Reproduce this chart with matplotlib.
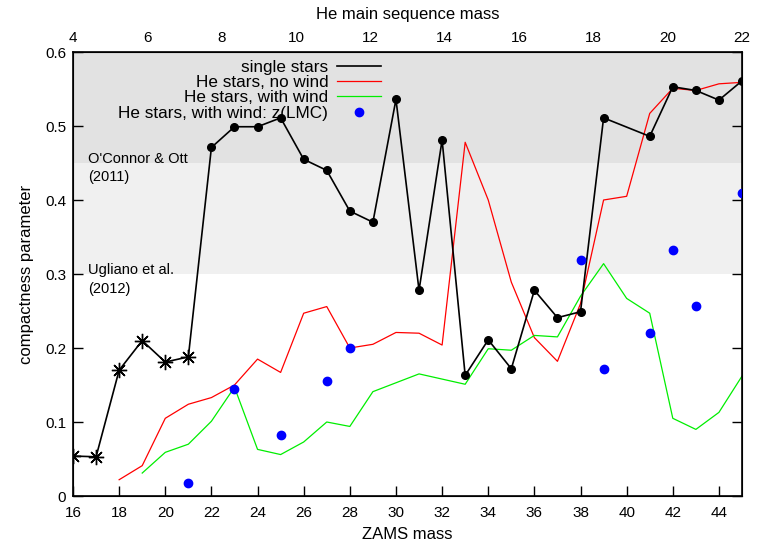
import matplotlib
matplotlib.use("Agg")
import matplotlib.pyplot as plt
from matplotlib import font_manager
from matplotlib.lines import Line2D

# --- data -----------------------------------------------------------------
# single stars (first six computed on a coarse grid, drawn with asterisks)
single_mass = [16, 17, 18, 19, 20, 21, 22, 23, 24, 25, 26, 27, 28, 29, 30,
               31, 32, 33, 34, 35, 36, 37, 38, 39, 41, 42, 43, 44, 45]
single_cp = [0.054, 0.053, 0.170, 0.210, 0.181, 0.188, 0.471, 0.499, 0.499,
             0.511, 0.455, 0.440, 0.385, 0.370, 0.536, 0.278, 0.481, 0.163,
             0.211, 0.172, 0.278, 0.241, 0.249, 0.511, 0.486, 0.553, 0.548,
             0.535, 0.561]
n_coarse = 6

# He stars, no wind
nowind_mass = [18, 19, 20, 21, 22, 23, 24, 25, 26, 27, 28, 29, 30, 31, 32,
               33, 34, 35, 36, 37, 38, 39, 40, 41, 42, 43, 44, 45]
nowind_cp = [0.022, 0.041, 0.105, 0.124, 0.133, 0.150, 0.185, 0.167, 0.247,
             0.256, 0.200, 0.205, 0.221, 0.220, 0.204, 0.478, 0.400, 0.289,
             0.214, 0.182, 0.260, 0.400, 0.405, 0.517, 0.551, 0.548, 0.557,
             0.559]

# He stars, with wind
wind_mass = [19, 20, 21, 22, 23, 24, 25, 26, 27, 28, 29, 30, 31, 32, 33, 34,
             35, 36, 37, 38, 39, 40, 41, 42, 43, 44, 45]
wind_cp = [0.031, 0.059, 0.070, 0.101, 0.147, 0.063, 0.056, 0.073, 0.100,
           0.094, 0.141, 0.153, 0.165, 0.158, 0.151, 0.199, 0.197, 0.217,
           0.215, 0.270, 0.314, 0.267, 0.247, 0.105, 0.090, 0.113, 0.162]

# He stars, with wind at LMC metallicity
lmc_mass = [21, 23, 25, 27, 28, 38, 39, 41, 42, 43, 45]
lmc_cp = [0.018, 0.145, 0.083, 0.156, 0.200, 0.319, 0.171, 0.220, 0.333,
          0.257, 0.409]

# explodability criteria from the literature
oconnor_ott = 0.45
ugliano = 0.30
cp_top = 0.6

zams_range = (16, 45)
he_range = (4, 22)
zams_ticks = list(range(16, 45, 2))
he_ticks = list(range(4, 23, 2))
cp_ticks = [0, 0.1, 0.2, 0.3, 0.4, 0.5, 0.6]

# --- style ----------------------------------------------------------------
def pick_font(*names):
    for n in names:
        try:
            font_manager.findfont(n, fallback_to_default=False)
            return n
        except Exception:
            continue
    return "DejaVu Sans"

base_font = pick_font("Liberation Sans", "Arial", "DejaVu Sans")
plt.rcParams["font.family"] = [base_font, "DejaVu Sans"]

fig = plt.figure(figsize=(7.57, 5.42), dpi=100)
ax = fig.add_axes([73 / 757, 1 - 496 / 542, (742 - 73) / 757, (496 - 52) / 542])

ax.axhspan(oconnor_ott, cp_top, color="#e2e2e2", lw=0, zorder=0)
ax.axhspan(ugliano, oconnor_ott, color="#f0f0f0", lw=0, zorder=0)

# criterion labels: first line sits on the band edge, reference year below
line_gap = 0.025
for level, name, year in [(oconnor_ott, "O'Connor & Ott", "(2011)"),
                          (ugliano, "Ugliano et al.", "(2012)")]:
    ax.text(16.65, level, name, fontsize=10.5, va="baseline", ha="left")
    ax.text(16.65, level - line_gap, year, fontsize=10.5, va="baseline",
            ha="left")

ax.plot(single_mass, single_cp, color="black", lw=1.2, zorder=3)
ax.plot(single_mass[:n_coarse], single_cp[:n_coarse], ls="none",
        marker=(8, 2, 0), ms=11, mew=1.0, color="black", zorder=4)
ax.plot(single_mass[n_coarse:], single_cp[n_coarse:], ls="none",
        marker="o", ms=5.5, color="black", zorder=4)
ax.plot(nowind_mass, nowind_cp, color="#ff0000", lw=0.9, zorder=2)
ax.plot(wind_mass, wind_cp, color="#00ee00", lw=0.9, zorder=2)
ax.plot(lmc_mass, lmc_cp, ls="none", marker="o", ms=6, color="#0000ff",
        zorder=5)

ax.set_xlim(*zams_range)
ax.set_ylim(0, cp_top)
ax.set_xticks(zams_ticks)
ax.set_yticks(cp_ticks)
ax.set_yticklabels(["0" if t == 0 else f"{t:.1f}" for t in cp_ticks])
ax.tick_params(axis="both", direction="in", length=7, width=1.0,
               labelsize=11, pad=5)
ax.tick_params(axis="x", pad=7)
ax.tick_params(axis="y", right=True)
ax.set_xlabel("ZAMS mass", fontsize=12, labelpad=5)
ax.set_ylabel("compactness parameter", fontsize=12, labelpad=8)
for s in ax.spines.values():
    s.set_linewidth(1.2)

top = ax.twiny()
top.set_xlim(*he_range)
top.set_xticks(he_ticks)
top.tick_params(axis="x", direction="in", length=0, labelsize=11, pad=5)
top.set_xlabel("He main sequence mass", fontsize=12, labelpad=8.5)

handles = [
    Line2D([], [], color="black", lw=1.2),
    Line2D([], [], color="#ff0000", lw=0.9),
    Line2D([], [], color="#00ee00", lw=0.9),
    Line2D([], [], ls="none", marker="o", ms=6, color="#0000ff"),
]
labels = ["single stars", "He stars, no wind", "He stars, with wind",
          "He stars, with wind: z(LMC)"]
ax.legend(handles, labels, loc="upper left", bbox_to_anchor=(0.0565, 1.0),
          frameon=False, markerfirst=False, fontsize=12.3, handlelength=2.6,
          handletextpad=0.5, labelspacing=0.02, borderaxespad=0.25,
          borderpad=0.2)

fig.savefig("out.png", dpi=100)
